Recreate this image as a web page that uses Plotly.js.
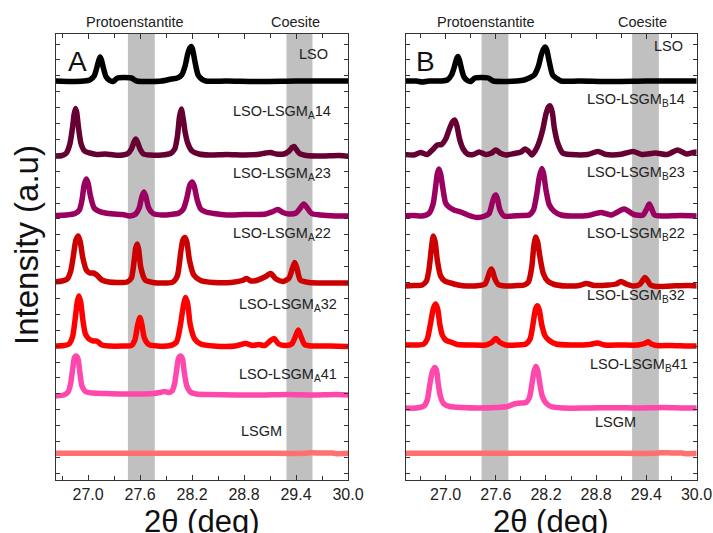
<!DOCTYPE html>
<html>
<head>
<meta charset="utf-8">
<script src="https://cdn.plot.ly/plotly-3.0.1.min.js"></script>
<style>html,body{margin:0;padding:0;background:#fff;}#chart{width:713px;height:533px;}</style>
</head>
<body>
<div id="chart"></div>
<script>
// ---------------- DATA (2θ in degrees, stacked intensity in a.u.) ----------------
const labelsA = ['LSO', 'LSO-LSGM<sub>A</sub>14', 'LSO-LSGM<sub>A</sub>23', 'LSO-LSGM<sub>A</sub>22', 'LSO-LSGM<sub>A</sub>32', 'LSO-LSGM<sub>A</sub>41', 'LSGM'];
const labelsB = ['LSO', 'LSO-LSGM<sub>B</sub>14', 'LSO-LSGM<sub>B</sub>23', 'LSO-LSGM<sub>B</sub>22', 'LSO-LSGM<sub>B</sub>32', 'LSO-LSGM<sub>B</sub>41', 'LSGM'];
const phaseNames = ['Protoenstantite', 'Coesite'];
const bandsA = [[27.46, 27.77], [29.29, 29.59]];
const bandsB = [[27.43, 27.75], [29.23, 29.55]];
const tickVals = [27.0, 27.6, 28.2, 28.8, 29.4, 30.0];

// Panel A
const thA_LSO = [26.60, 26.80, 26.95, 27.02, 27.07, 27.10, 27.125, 27.14, 27.155, 27.18, 27.21, 27.25, 27.29, 27.34, 27.42, 27.50, 27.56, 27.70, 27.85, 27.96, 28.03, 28.08, 28.12, 28.15, 28.175, 28.19, 28.205, 28.23, 28.27, 28.31, 28.36, 28.60, 29.00, 29.40, 29.80, 30.02];
const inA_LSO = [399, 398.5, 399, 400, 404, 412, 420, 423, 420, 411, 403, 399.5, 398.5, 402, 402.5, 402, 399, 398.5, 399, 401, 402, 405, 414, 426, 432, 433.5, 431, 420, 405, 401, 399, 399, 398.5, 399, 399, 399];

const thA_14 = [26.60, 26.70, 26.75, 26.79, 26.82, 26.84, 26.856, 26.87, 26.89, 26.92, 26.96, 27.02, 27.10, 27.20, 27.30, 27.40, 27.46, 27.50, 27.53, 27.55, 27.57, 27.60, 27.64, 27.72, 27.85, 27.95, 28.00, 28.03, 28.055, 28.076, 28.10, 28.12, 28.15, 28.20, 28.28, 28.40, 28.60, 28.80, 28.95, 29.05, 29.107, 29.17, 29.26, 29.32, 29.355, 29.377, 29.40, 29.44, 29.52, 29.70, 29.90, 30.02];
const inA_14 = [324, 324.5, 327, 336, 352, 366, 371.5, 367, 352, 336, 329, 327, 325.5, 326, 325, 325, 326.5, 331, 338, 341, 338, 331, 326, 325, 325, 326.5, 331, 343, 363, 371, 360, 348, 337, 329, 326, 325, 325.5, 325, 325.5, 327, 327.5, 326, 326, 329, 332.5, 333.5, 331, 326.5, 324.5, 324, 324.5, 323.5];

const thA_23 = [26.60, 26.75, 26.85, 26.90, 26.93, 26.955, 26.98, 27.00, 27.03, 27.07, 27.12, 27.20, 27.30, 27.40, 27.48, 27.55, 27.59, 27.62, 27.644, 27.665, 27.70, 27.75, 27.85, 27.95, 28.05, 28.10, 28.14, 28.175, 28.203, 28.225, 28.26, 28.30, 28.36, 28.45, 28.60, 28.80, 28.95, 29.05, 29.12, 29.19, 29.25, 29.32, 29.40, 29.45, 29.49, 29.53, 29.58, 29.68, 29.85, 30.02];
const inA_23 = [264.5, 265, 266.5, 270, 280, 295, 301, 297, 283, 272, 269, 267, 266, 265.5, 264, 266, 272, 283, 288, 284, 272, 266.5, 265, 265.5, 267, 271, 282, 295, 298, 294, 280, 271, 268, 266.5, 265, 265.5, 265.5, 266, 268, 270.5, 267.5, 266, 267, 272, 276, 272, 266.5, 265, 264, 264];

const thA_22 = [26.60, 26.70, 26.76, 26.80, 26.83, 26.86, 26.887, 26.91, 26.94, 26.98, 27.02, 27.06, 27.10, 27.16, 27.24, 27.35, 27.45, 27.50, 27.53, 27.55, 27.568, 27.585, 27.61, 27.66, 27.75, 27.90, 27.98, 28.03, 28.07, 28.095, 28.118, 28.14, 28.17, 28.22, 28.30, 28.45, 28.65, 28.78, 28.83, 28.88, 28.96, 29.05, 29.107, 29.17, 29.25, 29.32, 29.36, 29.385, 29.41, 29.45, 29.55, 29.75, 30.02];
const inA_22 = [198, 199, 201, 209, 224, 240, 244, 238, 222, 210, 207, 207, 205, 200, 198, 197.5, 198, 202, 218, 232, 236, 230, 212, 200, 197.5, 197, 198, 204, 228, 240, 242.5, 238, 220, 205, 199.5, 197.5, 197.5, 199.5, 201.5, 199, 200, 203.5, 206.5, 201, 198.5, 202, 212, 217.5, 212, 200, 197.5, 197, 197];

const thA_32 = [26.60, 26.72, 26.78, 26.82, 26.85, 26.875, 26.894, 26.915, 26.94, 26.97, 27.01, 27.06, 27.10, 27.16, 27.25, 27.40, 27.50, 27.54, 27.57, 27.598, 27.62, 27.65, 27.70, 27.80, 27.95, 28.02, 28.06, 28.10, 28.126, 28.15, 28.18, 28.23, 28.30, 28.45, 28.70, 28.82, 28.90, 28.97, 29.04, 29.10, 29.146, 29.20, 29.28, 29.35, 29.40, 29.427, 29.455, 29.50, 29.60, 29.80, 30.02];
const inA_32 = [134, 134.5, 136, 143, 160, 178, 184, 178, 160, 146, 141, 139, 139, 135, 134, 134, 134.5, 140, 154, 162.5, 156, 142, 135.5, 134, 134.5, 138, 152, 174, 182.5, 176, 155, 141, 136, 134, 134, 136.5, 134.5, 135.5, 134.5, 139, 141.5, 136, 134.5, 136, 145, 150, 144, 135.5, 134, 134, 133.5];

const thA_41 = [26.60, 26.72, 26.77, 26.80, 26.825, 26.845, 26.867, 26.885, 26.905, 26.93, 26.97, 27.05, 27.20, 27.40, 27.60, 27.75, 27.83, 27.88, 27.93, 27.97, 28.00, 28.025, 28.045, 28.068, 28.09, 28.11, 28.14, 28.18, 28.25, 28.40, 28.70, 29.00, 29.30, 29.60, 29.85, 30.02];
const inA_41 = [84, 85, 88, 97, 113, 123, 124, 121, 108, 94, 88.5, 87, 86.5, 86, 86, 86.5, 87.5, 88.5, 87.5, 89, 97, 112, 122, 124, 121, 108, 94, 88, 86, 85.5, 85, 85, 85.5, 85, 85.5, 85];

const thA_LSGM = [26.60, 27.20, 27.80, 28.40, 29.00, 29.50, 29.56, 29.70, 29.82, 29.86, 30.02];
const inA_LSGM = [26.7, 26.7, 26.7, 26.7, 26.7, 26.7, 27.2, 27.0, 27.0, 26.4, 26.8];

// Panel B
const thB_LSO = [26.48, 26.65, 26.72, 26.80, 26.95, 27.02, 27.07, 27.10, 27.13, 27.147, 27.165, 27.19, 27.22, 27.26, 27.30, 27.35, 27.43, 27.51, 27.57, 27.70, 27.85, 27.94, 28.00, 28.06, 28.11, 28.14, 28.17, 28.19, 28.21, 28.24, 28.28, 28.33, 28.38, 28.60, 29.00, 29.40, 29.80, 30.02];
const inB_LSO = [399, 399, 398, 399, 399, 400, 405, 412, 421, 423.5, 420, 411, 403, 399.5, 398.5, 402, 402.5, 402, 399, 398.5, 399, 400, 402, 405, 414, 424, 431, 433, 430, 418, 405, 401.5, 399, 399, 398.5, 399, 399, 399];

const thB_14 = [26.48, 26.62, 26.70, 26.78, 26.84, 26.90, 26.95, 27.00, 27.04, 27.08, 27.108, 27.135, 27.17, 27.21, 27.26, 27.33, 27.40, 27.48, 27.55, 27.60, 27.65, 27.72, 27.82, 27.90, 27.95, 28.00, 28.03, 28.07, 28.11, 28.16, 28.20, 28.23, 28.25, 28.275, 28.30, 28.34, 28.40, 28.50, 28.70, 28.82, 28.92, 29.10, 29.24, 29.35, 29.51, 29.65, 29.775, 29.88, 29.96, 30.02];
const inB_14 = [325.7, 325, 327.5, 325.5, 330, 335, 335.5, 341, 350, 358, 360, 354, 340, 331, 326, 325.5, 328, 325.5, 327, 330, 327, 325, 326.5, 328, 331, 328, 325, 329, 336, 350, 366, 373, 374.2, 368, 352, 337, 327, 325.5, 325.5, 328.5, 325.5, 325.7, 328.5, 325.5, 327, 325.5, 330, 326, 327.5, 328];

const thB_23 = [26.48, 26.62, 26.72, 26.80, 26.85, 26.88, 26.90, 26.92, 26.94, 26.97, 27.00, 27.04, 27.10, 27.18, 27.28, 27.38, 27.47, 27.52, 27.56, 27.585, 27.60, 27.62, 27.65, 27.70, 27.80, 27.92, 28.00, 28.05, 28.09, 28.12, 28.15, 28.17, 28.20, 28.24, 28.30, 28.38, 28.50, 28.70, 28.856, 28.98, 29.135, 29.25, 29.36, 29.41, 29.435, 29.46, 29.50, 29.60, 29.80, 30.02];
const inB_23 = [264.3, 264.5, 264, 266.5, 276, 293, 306, 311, 306, 290, 277, 273, 270, 268, 264.5, 262.5, 264, 266.5, 278, 284, 285, 281, 270, 264, 264, 264.5, 265, 270, 286, 303, 311.5, 307, 290, 275, 268.5, 265, 264, 264.5, 267.5, 265, 271, 265.5, 265, 272, 276, 272, 265, 264, 264.5, 264];

const thB_22 = [26.48, 26.62, 26.72, 26.77, 26.80, 26.83, 26.853, 26.875, 26.90, 26.94, 26.99, 27.06, 27.15, 27.25, 27.40, 27.47, 27.51, 27.53, 27.547, 27.565, 27.59, 27.63, 27.72, 27.85, 27.94, 27.99, 28.03, 28.055, 28.078, 28.10, 28.13, 28.17, 28.22, 28.30, 28.45, 28.60, 28.68, 28.78, 28.95, 29.04, 29.096, 29.16, 29.24, 29.32, 29.36, 29.383, 29.41, 29.45, 29.52, 29.70, 29.90, 30.02];
const inB_22 = [194, 194.5, 195, 199, 210, 232, 244, 238, 220, 204, 199, 197, 195, 194, 194.5, 196, 204, 209, 211, 208, 201, 195.5, 194, 194.5, 195, 198, 213, 234, 243, 238, 222, 206, 199, 195.5, 194, 194.5, 196.5, 194.5, 195, 196, 198.5, 196, 194, 195.5, 200, 202.5, 200, 195, 193.5, 194, 194.5, 194];

const thB_32 = [26.48, 26.65, 26.74, 26.78, 26.82, 26.855, 26.88, 26.905, 26.93, 26.96, 27.00, 27.06, 27.14, 27.30, 27.48, 27.55, 27.60, 27.65, 27.72, 27.85, 27.96, 28.01, 28.045, 28.075, 28.098, 28.12, 28.15, 28.19, 28.24, 28.32, 28.50, 28.72, 28.816, 28.90, 29.10, 29.30, 29.38, 29.423, 29.46, 29.52, 29.70, 29.90, 30.02];
const inB_32 = [135, 135, 136, 141, 157, 172, 176, 171, 156, 145, 140, 138, 135.5, 135, 135, 137.5, 141.5, 137.5, 135, 135, 136, 141, 156, 171, 174.2, 170, 155, 144, 139.5, 136, 135, 135.5, 137, 135, 135, 135, 136.5, 138.2, 136, 134.5, 134.5, 134, 134];

const thB_41 = [26.48, 26.65, 26.74, 26.78, 26.81, 26.84, 26.868, 26.89, 26.91, 26.94, 26.98, 27.05, 27.20, 27.40, 27.60, 27.74, 27.82, 27.90, 27.96, 28.00, 28.03, 28.055, 28.078, 28.10, 28.125, 28.155, 28.20, 28.26, 28.40, 28.70, 29.00, 29.30, 29.60, 29.85, 30.02];
const inB_41 = [72, 72, 74, 80, 95, 108, 112.5, 110, 97, 83, 76, 73.5, 72.5, 72, 72.5, 73.5, 76, 77, 77.5, 82, 95, 108, 113.5, 110, 97, 84, 77, 73.5, 72, 72, 72.3, 72, 72.5, 72, 72];

const thB_LSGM = [26.48, 27.20, 27.80, 28.40, 29.00, 29.50, 29.57, 29.70, 29.82, 29.86, 30.02];
const inB_LSGM = [26.7, 26.7, 26.7, 26.7, 26.7, 26.7, 27.3, 27.0, 27.0, 26.4, 26.8];

// ---------------- STYLE / LAYOUT ----------------
const colors = ['#000000', '#660033', '#990060', '#CC0000', '#FF0000', '#FF48AC', '#FF7070'];
const seriesA = [[thA_LSO, inA_LSO], [thA_14, inA_14], [thA_23, inA_23], [thA_22, inA_22], [thA_32, inA_32], [thA_41, inA_41], [thA_LSGM, inA_LSGM]];
const seriesB = [[thB_LSO, inB_LSO], [thB_14, inB_14], [thB_23, inB_23], [thB_22, inB_22], [thB_32, inB_32], [thB_41, inB_41], [thB_LSGM, inB_LSGM]];

const W = 713, H = 533;
const PX = x => x / W;
const PY = y => (H - y) / H;
const FONT = 'Liberation Sans, Arial, sans-serif';

const lineStyle = c => ({color: c, width: 5.5, shape: 'spline', smoothing: 0.7});
const traces = [];
seriesA.forEach((s, i) => traces.push({x: s[0], y: s[1], type: 'scatter', mode: 'lines', name: labelsA[i], xaxis: 'x', yaxis: 'y', line: lineStyle(colors[i]), showlegend: false, hoverinfo: 'skip'}));
seriesB.forEach((s, i) => traces.push({x: s[0], y: s[1], type: 'scatter', mode: 'lines', name: labelsB[i], xaxis: 'x2', yaxis: 'y2', line: lineStyle(colors[i]), showlegend: false, hoverinfo: 'skip'}));

const shapes = [];
bandsA.forEach(b => shapes.push({type: 'rect', xref: 'x', yref: 'y domain', x0: b[0], x1: b[1], y0: 0, y1: 1, fillcolor: '#C0C0C0', line: {width: 0}, layer: 'below'}));
bandsB.forEach(b => shapes.push({type: 'rect', xref: 'x2', yref: 'y2 domain', x0: b[0], x1: b[1], y0: 0, y1: 1, fillcolor: '#C0C0C0', line: {width: 0}, layer: 'below'}));

// label positions (right edge px, centre px)
const labPosA = [[330, 54], [333, 112], [333, 174], [333, 234], [339, 305], [339, 375], [284, 431]];
const labPosB = [[685, 46], [687, 100], [687, 173], [687, 234], [687, 296], [690, 365], [638, 422]];
const ann = [];
const addLab = (t, p) => ann.push({text: t, xref: 'paper', yref: 'paper', x: PX(p[0]), y: PY(p[1]), xanchor: 'right', yanchor: 'middle', showarrow: false, font: {family: FONT, size: 14.5, color: '#222'}});
labelsA.forEach((t, i) => addLab(t, labPosA[i]));
labelsB.forEach((t, i) => addLab(t, labPosB[i]));
const addTop = (t, x) => ann.push({text: t, xref: 'paper', yref: 'paper', x: PX(x), y: PY(21.5), xanchor: 'center', yanchor: 'middle', showarrow: false, font: {family: FONT, size: 14.5, color: '#222'}});
addTop(phaseNames[0], 135); addTop(phaseNames[1], 295.5); addTop(phaseNames[0], 486); addTop(phaseNames[1], 642.5);
ann.push({text: 'A', xref: 'paper', yref: 'paper', x: PX(77), y: PY(62), xanchor: 'center', yanchor: 'middle', showarrow: false, font: {family: FONT, size: 28, color: '#111'}});
ann.push({text: 'B', xref: 'paper', yref: 'paper', x: PX(425.5), y: PY(62), xanchor: 'center', yanchor: 'middle', showarrow: false, font: {family: FONT, size: 28, color: '#111'}});
ann.push({text: 'Intensity (a.u)', xref: 'paper', yref: 'paper', x: PX(26.5), y: PY(245.5), xanchor: 'center', yanchor: 'middle', textangle: -90, showarrow: false, font: {family: FONT, size: 33, color: '#111'}});
ann.push({text: '2θ (deg)', xref: 'paper', yref: 'paper', x: PX(201.7), y: PY(502), xanchor: 'center', yanchor: 'top', showarrow: false, font: {family: FONT, size: 31, color: '#111'}});
ann.push({text: '2θ (deg)', xref: 'paper', yref: 'paper', x: PX(550), y: PY(502), xanchor: 'center', yanchor: 'top', showarrow: false, font: {family: FONT, size: 31, color: '#111'}});

const xax = (dom, rng, anchor) => ({domain: dom, range: rng, anchor: anchor, showline: true, linecolor: '#333', linewidth: 1, mirror: 'ticks', ticks: 'inside', ticklen: 5, tickcolor: '#333', tickvals: tickVals, tickformat: '.1f', tickfont: {family: FONT, size: 16, color: '#222'}, minor: {dtick: 0.3, tick0: 27.0, ticks: 'inside', ticklen: 4, tickcolor: '#333'}, showgrid: false, zeroline: false, fixedrange: true});
const yax = (dom, anchor) => ({domain: dom, range: [0, 446], anchor: anchor, showline: true, linecolor: '#333', linewidth: 1, mirror: 'ticks', ticks: 'inside', ticklen: 4, tickcolor: '#333', tick0: 6.7, dtick: 15.9, showticklabels: false, showgrid: false, zeroline: false, fixedrange: true});

const yDom = [PY(480), PY(34)];
const layout = {
  width: W, height: H, margin: {l: 0, r: 0, t: 0, b: 0},
  paper_bgcolor: '#fff', plot_bgcolor: '#fff', showlegend: false,
  font: {family: FONT},
  xaxis: xax([PX(56), PX(348)], [26.63, 30.0], 'y'),
  yaxis: yax(yDom, 'x'),
  xaxis2: xax([PX(405.5), PX(696.5)], [26.52, 30.0], 'y2'),
  yaxis2: yax(yDom, 'x2'),
  shapes: shapes, annotations: ann
};
Plotly.newPlot('chart', traces, layout, {staticPlot: true, displayModeBar: false});
</script>
</body>
</html>
